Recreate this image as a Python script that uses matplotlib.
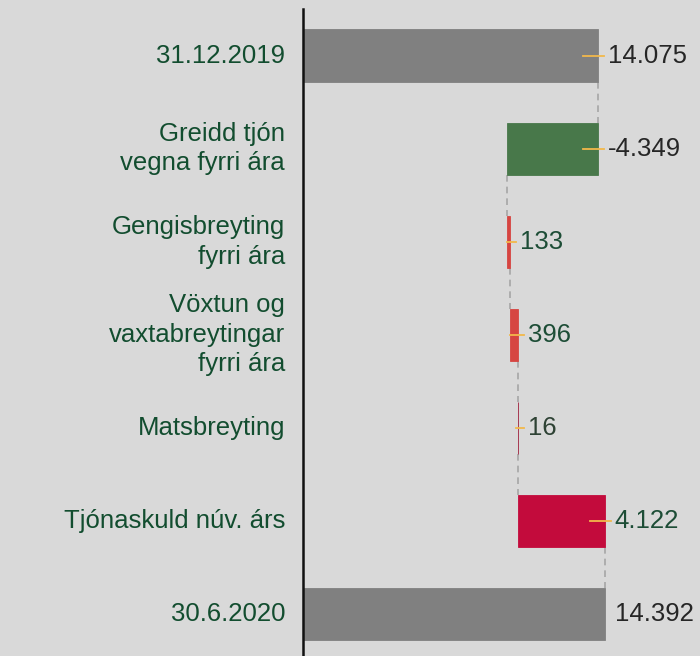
import matplotlib
matplotlib.use("Agg")
import matplotlib.pyplot as plt
import numpy as np

plt.rcParams["font.family"] = ["Liberation Sans", "DejaVu Sans"]

BG = "#d9d9d9"

# ── Data ──────────────────────────────────────────────────────────────────────
categories = ["31.12.2019", "Greidd tjón\nvegna fyrri ára", "Gengisbreyting\nfyrri ára",
              "Vöxtun og\nvaxtabreytingar\nfyrri ára", "Matsbreyting",
              "Tjónaskuld núv. árs", "30.6.2020"]
values = [14075, -4349, 133, 396, 16, 4122, 14392]
is_total = [True, False, False, False, False, False, True]
labels = ["14.075", "-4.349", "133", "396", "16", "4.122", "14.392"]
bar_colors = ["#808080", "#48784a", "#d64541", "#d64541", "#9e1f3a", "#c30b3c", "#808080"]
label_colors = ["#262626", "#262626", "#1d4d36", "#1d4d36", "#2e4234", "#1d4d36", "#262626"]
CAT_COLOR = "#124d2f"

# ── Waterfall geometry ────────────────────────────────────────────────────────
starts, ends = [], []
running = 0
for v, tot in zip(values, is_total):
    if tot:
        s, e = 0, v
        running = v
    else:
        s, e = running, running + v
        running = e
    starts.append(s)
    ends.append(e)

fig = plt.figure(figsize=(7, 6.56), dpi=100, facecolor=BG)
ax = fig.add_axes([303 / 700, 0, 1 - 303 / 700, 1 - 9 / 656])
ax.set_facecolor(BG)

y = np.arange(len(values))
lefts = [min(s, e) for s, e in zip(starts, ends)]
widths = [abs(e - s) for s, e in zip(starts, ends)]
ax.barh(y, widths, left=lefts, height=0.56, color=bar_colors,
        edgecolor=bar_colors, linewidth=0.6, zorder=2)

xmax = 397 / (295 / 14075)
ax.set_xlim(0, xmax)
ax.set_ylim((656 - 56) / 93, -0.5)

px = xmax / 397  # data units per pixel

# connectors
for i in range(len(values) - 1):
    ax.plot([ends[i], ends[i]], [i + 0.28, i + 1 - 0.28], color="#a6a6a6",
            lw=1.2, ls=(0, (4, 3)), zorder=1)

# value labels with small leader tick
for i, (s, e) in enumerate(zip(starts, ends)):
    right = max(s, e)
    w = abs(e - s)
    if not is_total[i] or i == 0:
        ax.plot([right - min(15 * px, max(w, 2 * px)), right + 6 * px], [i, i],
                color="#f2b84b", lw=1.3, zorder=3)
    ax.text(right + 10 * px, i, labels[i], ha="left", va="center",
            fontsize=18.5, color=label_colors[i], zorder=4)

# category labels
for i, c in enumerate(categories):
    ax.text(-18 * px, i, c, ha="right", va="center", fontsize=18.5,
            color=CAT_COLOR, linespacing=1.3, clip_on=False)

ax.set_xticks([])
ax.set_yticks([])
for name, sp in ax.spines.items():
    sp.set_visible(name == "left")
ax.spines["left"].set_color("#111111")
ax.spines["left"].set_linewidth(1.8)

fig.savefig("out.png", dpi=100, facecolor=BG)
